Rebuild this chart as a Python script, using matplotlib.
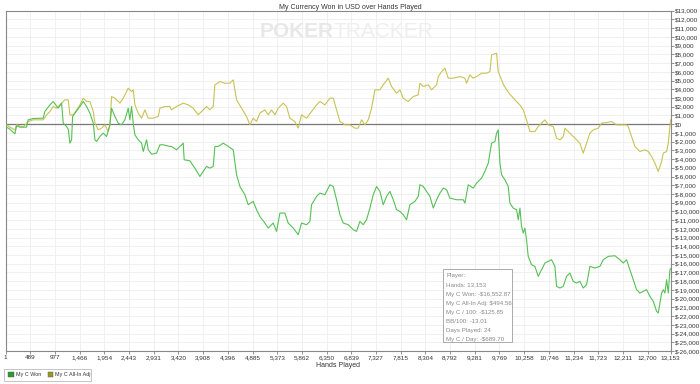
import matplotlib.pyplot as plt
from matplotlib.patches import Rectangle

plt.rcParams['font.family'] = ['Liberation Sans', 'DejaVu Sans']

# My C Won (green) - hands / dollars
won_hands = [1, 20, 86, 185, 218, 284, 415, 448, 547, 745, 778, 877, 943, 1042, 1108, 1141,
             1207, 1240, 1273, 1306, 1326, 1372, 1471, 1537, 1603, 1669, 1735, 1768, 1800,
             1866, 1932, 1998, 2064, 2097, 2163, 2229, 2294, 2360, 2426, 2459, 2492, 2525,
             2558, 2624, 2690, 2723, 2789, 2822, 2888, 2987, 3053, 3119, 3250, 3283, 3382,
             3481, 3514, 3533, 3645, 3744, 3843, 3909, 3975, 4041, 4107, 4140, 4206, 4305,
             4404, 4503, 4569, 4635, 4733, 4799, 4898, 4964, 5030, 5129, 5195, 5294, 5360,
             5426, 5524, 5590, 5689, 5788, 5854, 5953, 6019, 6052, 6151, 6217, 6316, 6415,
             6481, 6547, 6613, 6679, 6778, 6877, 6942, 7008, 7074, 7140, 7206, 7272, 7338,
             7404, 7470, 7536, 7602, 7668, 7734, 7800, 7865, 7931, 7997, 8096, 8162, 8195,
             8261, 8327, 8393, 8459, 8525, 8591, 8657, 8723, 8788, 8920, 9052, 9085, 9151,
             9250, 9316, 9415, 9481, 9547, 9613, 9678, 9711, 9744, 9777, 9810, 9876, 9942,
             9975, 10041, 10107, 10140, 10173, 10205, 10238, 10271, 10304, 10337, 10403,
             10469, 10535, 10601, 10667, 10733, 10799, 10865, 10898, 10964, 11030, 11095,
             11161, 11227, 11293, 11359, 11425, 11491, 11557, 11656, 11755, 11821, 11920,
             12051, 12150, 12216, 12282, 12348, 12414, 12480, 12546, 12612, 12678, 12744,
             12810, 12876, 12909, 12942, 12975, 13008, 13041, 13074, 13107, 13140, 13153]
won = [0, -344, -573, -1107, -191, -344, -344, 496, 649, 687, 1450, 2214, 2596, 1832, 2405, 115,
       -267, -573, -2176, -1794, 878, 1260, 2023, 2596, 2023, 1260, 115, -1794, -1985,
       -1412, -1031, -1412, -76, 1832, 878, 115, -76, 496, 1832, 496, 2023, 115,
       -1221, -1794, -2176, -3130, -1794, -2939, -3435, -3321, -2367, -2367, -2557, -2557, -2939,
       -2367, -2176, -4084, -4199, -5038, -5993, -5420, -4848, -5038, -4848, -2557, -2557, -2176,
       -2557, -2939, -5802, -7138, -8092, -9237, -8855, -9810, -10573, -11336, -11909, -11336, -12291,
       -10191, -10191, -11336, -11909, -12672, -11336, -11527, -11146, -9237, -8283, -7901, -8092, -6947,
       -7138, -8665, -10382, -11336, -11527, -12100, -12291, -11146, -11527, -10955, -9619, -8092, -7138,
       -7710, -9237, -8283, -7710, -8665, -9810, -10001, -10382, -10955, -9237, -8855, -8283, -6947,
       -7138, -7710, -8283, -9619, -8665, -7901, -7329, -7519, -8474, -8665, -8665, -9046, -6947,
       -7329, -6756, -6184, -5420, -4466, -2176, -1989, -1034, -653, -4470, -5806, -6378, -7142,
       -9050, -9623, -9814, -10959, -9623, -11722, -12485, -11913, -13249, -15157, -16111,
       -16302, -17447, -16684, -15920, -15729, -15539, -16302, -18592, -18783, -18592, -17447,
       -17065, -18020, -18210, -18020, -18783, -18401, -16302, -16493, -16302, -15539, -15157,
       -15081, -15539, -15920, -15539, -16684, -17829, -18974, -19356, -19165, -18974, -19738,
       -20310, -21455, -21646, -20501, -19356, -18974, -19356, -17829, -19356, -16684, -16553]

# My C All-In Adj (olive)
adj_hands = [1, 86, 185, 218, 349, 448, 547, 745, 811, 877, 943, 1009, 1075, 1174, 1240, 1273,
             1339, 1405, 1471, 1537, 1603, 1669, 1735, 1768, 1834, 1900, 1965, 2031, 2064,
             2097, 2163, 2262, 2327, 2426, 2492, 2525, 2558, 2624, 2690, 2756, 2822, 2921,
             3020, 3053, 3151, 3250, 3283, 3382, 3514, 3613, 3711, 3810, 3876, 3975, 4041,
             4107, 4140, 4239, 4338, 4437, 4503, 4569, 4667, 4766, 4832, 4898, 4964, 5030,
             5129, 5195, 5261, 5327, 5393, 5491, 5557, 5623, 5722, 5788, 5854, 5953, 6052,
             6151, 6217, 6316, 6415, 6481, 6547, 6613, 6712, 6811, 6909, 6975, 7041, 7107,
             7173, 7239, 7305, 7404, 7470, 7569, 7635, 7734, 7800, 7865, 7964, 8063, 8162,
             8195, 8261, 8360, 8426, 8525, 8558, 8624, 8690, 8756, 8854, 8986, 9085, 9118,
             9184, 9250, 9316, 9415, 9514, 9580, 9613, 9712, 9744, 9850, 9950, 10074, 10172,
             10238, 10304, 10370, 10469, 10535, 10601, 10667, 10733, 10832, 10898, 10964,
             11030, 11063, 11161, 11260, 11359, 11425, 11491, 11557, 11623, 11722, 11788,
             11887, 11986, 12084, 12183, 12282, 12315, 12381, 12447, 12546, 12645, 12711,
             12777, 12843, 12909, 12975, 13008, 13074, 13107, 13140, 13153]
adj = [0, -344, -649, -76, -344, 305, 496, 496, 1069, 1450, 2023, 1832, 2214, 2786, 2786, 1069,
       1069, 1641, 2214, 2977, 2596, 2596, 1450, 115, -649, -458, -76, -840, -76,
       3168, 2977, 2405, 2977, 4122, 3741, 3932, 2214, 1260, 687, 1641, 687, 687,
       878, 1832, 2023, 2023, 1641, 2023, 2405, 2214, 1832, 1069, 1450, 2023, 1641,
       2023, 4504, 4886, 4695, 4695, 5077, 2786, 1832, 878, -76, 687, 305, 1260,
       1641, 1069, 1641, 1069, 1832, 2405, 2023, 687, 305, -458, 1069, 687, 1450,
       2214, 2596, 2214, 2977, 2977, 1641, 305, -76, -76, -458, -458, 496, -76,
       496, 1832, 3932, 3932, 4504, 5267, 4313, 3550, 3932, 2977, 2596, 3168, 3359,
       4695, 4313, 4504, 3932, 4504, 5458, 6031, 6413, 5267, 5267, 5458, 5267, 4695,
       5649, 5267, 5458, 5840, 5840, 6031, 7939, 8130, 6031, 4500, 3600, 2783, 2210,
       1638, 492, -844, -844, -271, 111, 492, -80, -271, -1607, -1798,
       -1416, -462, -1034, -1607, -2180, -3325, -2180, -1034, -653, -462, 111,
       187, 302, -80, -80, -80, -271, -1416, -2561, -3134, -2943, -3134,
       -3706, -4470, -5424, -4279, -3325, -3134, -2180, -271, 495]

x_ticks = [1, 489, 977, 1466, 1954, 2443, 2931, 3420, 3908, 4396, 4885, 5373, 5862, 6350,
           6839, 7327, 7815, 8304, 8792, 9281, 9769, 10258, 10746, 11234, 11723, 12211,
           12700, 13153]
y_ticks = list(range(-26000, 13001, 1000))

info_lines = ['Player:', 'Hands: 13,153', 'My C Won: -$16,552.87', 'My C All-In Adj: $494.56',
              'My C / 100: -$125.85', 'BB/100: -13.01', 'Days Played: 24', 'My C / Day: -$689.70']

fig = plt.figure(figsize=(7, 3.84), dpi=100)
ax = fig.add_axes([0.008, 0.086, 0.950, 0.886])

ax.set_xlim(1, 13153)
ax.set_ylim(-26000, 13000)
ax.set_xticks(x_ticks)
ax.set_xticklabels([f'{t:,}' for t in x_ticks], fontsize=4.6, color='#333333')
ax.set_yticks(y_ticks)
ax.set_yticklabels([f'${t:,}' for t in y_ticks], fontsize=4.6, color='#333333')
ax.yaxis.tick_right()
ax.tick_params(axis='both', length=2, width=0.5, color='#666666', pad=1)
ax.grid(True, color='#eeeeee', linewidth=0.6)
ax.set_axisbelow(True)
for s in ax.spines.values():
    s.set_color('#888888')
    s.set_linewidth(0.8)

# watermark
ax.text(0.493, 0.94, 'POKER', transform=ax.transAxes, ha='right', va='center',
        fontsize=15, fontweight='bold', color='#e8e8e8')
ax.text(0.493, 0.94, 'TRACKER', transform=ax.transAxes, ha='left', va='center',
        fontsize=15, color='#efefef')

ax.axhline(0, color='#777777', linewidth=0.9, zorder=3)
ax.plot(adj_hands, adj, color='#c9c255', linewidth=0.8, zorder=4)
ax.plot(won_hands, won, color='#55c055', linewidth=0.8, zorder=4)

ax.set_xlabel('Hands Played', fontsize=5, color='#333333', labelpad=1)
fig.text(0.5, 0.99, 'My Currency Won in USD over Hands Played', ha='center', va='top',
         fontsize=5, color='#333333')

# info box
ax.add_patch(Rectangle((0.658, 0.025), 0.104, 0.215, transform=ax.transAxes,
                       facecolor='white', edgecolor='#aaaaaa', linewidth=0.7, zorder=5))
for i, line in enumerate(info_lines):
    ax.text(0.663, 0.228 - i * 0.0268, line, transform=ax.transAxes, fontsize=4.4,
            color='#888888', va='top', zorder=6)

# legend
fig.patches.append(Rectangle((0.006, 0.008), 0.124, 0.032, transform=fig.transFigure,
                             facecolor='white', edgecolor='#bbbbbb', linewidth=0.6))
fig.patches.append(Rectangle((0.012, 0.019), 0.008, 0.012, transform=fig.transFigure,
                             facecolor='#2f9a2f', edgecolor='#555555', linewidth=0.3))
fig.text(0.023, 0.025, 'My C Won', fontsize=3.9, color='#333333', va='center')
fig.patches.append(Rectangle((0.068, 0.019), 0.008, 0.012, transform=fig.transFigure,
                             facecolor='#9a9a20', edgecolor='#555555', linewidth=0.3))
fig.text(0.079, 0.025, 'My C All-In Adj', fontsize=3.9, color='#333333', va='center')

fig.savefig('out.png', dpi=100)
